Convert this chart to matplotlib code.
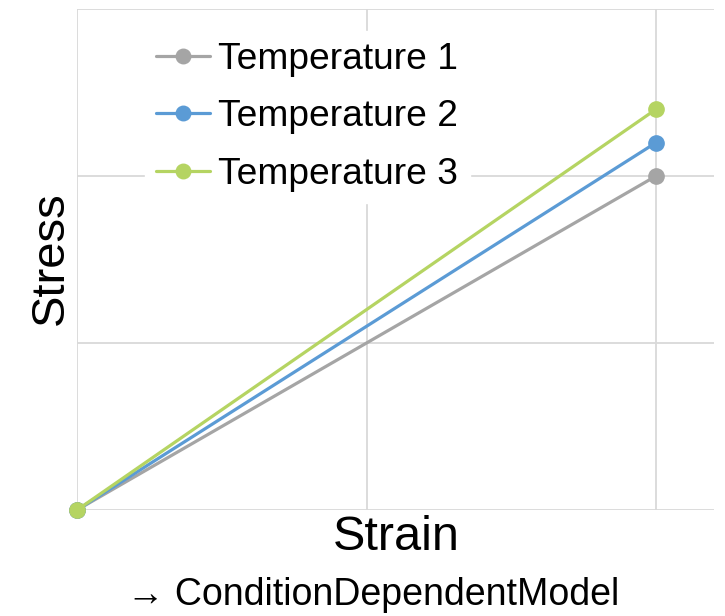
import matplotlib
matplotlib.use("Agg")
import matplotlib.pyplot as plt

# Data
strain = [0, 2]
series_names = ["Temperature 1", "Temperature 2", "Temperature 3"]
stress_t1 = [0, 2.0]
stress_t2 = [0, 2.2]
stress_t3 = [0, 2.4]
colors = ["#A5A5A5", "#5B9BD5", "#B5D462"]

W, H = 725, 616
fig = plt.figure(figsize=(W / 100, H / 100), dpi=100)
ax = fig.add_axes([77 / W, 1 - 510 / H, (714 - 77) / W, (510 - 9) / H])

for name, ys, c in zip(series_names, [stress_t1, stress_t2, stress_t3], colors):
    ax.plot(strain, ys, color=c, lw=2.3, marker="o", markersize=11,
            label=name, solid_capstyle="round", clip_on=False)

ax.set_xlim(0, 2.2)
ax.set_ylim(0, 3)
ax.set_xticks([0, 1, 2])
ax.set_yticks([0, 1, 2, 3])
ax.grid(True, color="#D9D9D9", lw=1.3)
ax.set_axisbelow(True)
ax.tick_params(length=0, labelbottom=False, labelleft=False)
for s in ax.spines.values():
    s.set_visible(False)

font = ["Liberation Sans", "DejaVu Sans"]
leg = ax.legend(loc="upper left", bbox_to_anchor=(145 / W, 1 - 31 / H),
                bbox_transform=fig.transFigure, frameon=True, fancybox=False,
                framealpha=1, edgecolor="white", facecolor="white",
                prop={"family": font, "size": 26.7}, handlelength=1.46,
                handletextpad=0.22, borderpad=0.3, labelspacing=0.6,
                borderaxespad=0, markerscale=0.95)
leg.set_zorder(5)

fig.text(396 / W, 1 - 550 / H, "Strain", ha="center", va="baseline",
         fontsize=35, family=font)
fig.text(51 / W, 1 - 258 / H, "Stress", ha="center", va="center",
         rotation=90, fontsize=34, family=font)
fig.text(373 / W, 1 - 605 / H, "\u2192 ConditionDependentModel", ha="center",
         va="baseline", fontsize=27, family=font)

fig.savefig("out.png", dpi=100)
